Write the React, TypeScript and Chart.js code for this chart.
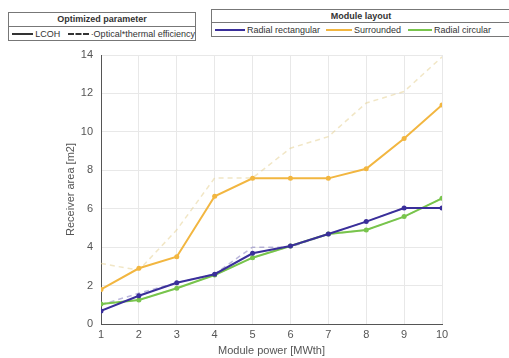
import React, { useEffect, useRef } from "react";
import { Chart, registerables } from "chart.js";
Chart.register(...registerables);

const modulePower = [1, 2, 3, 4, 5, 6, 7, 8, 9, 10];
const yTicks = [0, 2, 4, 6, 8, 10, 12, 14];

const rectLCOH = [0.68, 1.47, 2.15, 2.59, 3.68, 4.06, 4.68, 5.33, 6.04, 6.04];
const surrLCOH = [1.8, 2.9, 3.5, 6.65, 7.58, 7.58, 7.58, 8.08, 9.65, 11.4];
const circLCOH = [1.04, 1.25, 1.86, 2.55, 3.45, 4.06, 4.68, 4.89, 5.59, 6.54];

const rectOpt = [1.0, 1.6, 2.15, 2.6, 4.0, 4.0, 4.68, 5.33, 6.04, 6.04];
const surrOpt = [3.15, 2.8, 4.9, 7.6, 7.6, 9.15, 9.75, 11.5, 12.1, 13.9];
const circOpt = [1.04, 1.25, 1.86, 2.55, 3.45, 4.06, 4.68, 4.89, 5.59, 6.54];

const BLUE = "#3a2f9a";
const ORANGE = "#f2b640";
const GREEN = "#78c44c";

const FONT = "'Liberation Sans', Arial, sans-serif";

function pts(arr: number[]) {
  return modulePower.map((x, i) => ({ x, y: arr[i] }));
}

export default function App() {
  const ref = useRef<HTMLCanvasElement | null>(null);
  useEffect(() => {
    if (!ref.current) return;
    const solid = (label: string, data: number[], color: string) => ({
      label,
      data: pts(data),
      borderColor: color,
      backgroundColor: color,
      borderWidth: 2,
      pointRadius: 2.5,
      pointBorderWidth: 0,
      tension: 0,
    });
    const dashed = (label: string, data: number[], color: string) => ({
      label,
      data: pts(data),
      borderColor: color,
      backgroundColor: color,
      borderWidth: 1.5,
      borderDash: [5, 4],
      pointRadius: 0,
      tension: 0,
    });
    const chart = new Chart(ref.current, {
      type: "line",
      data: {
        datasets: [
          solid("Radial rectangular", rectLCOH, BLUE),
          solid("Surrounded", surrLCOH, ORANGE),
          solid("Radial circular", circLCOH, GREEN),
          dashed("Radial rectangular (opt)", rectOpt, "rgba(90,80,170,0.4)"),
          dashed("Surrounded (opt)", surrOpt, "rgba(230,210,150,0.55)"),
          dashed("Radial circular (opt)", circOpt, "rgba(120,196,76,0.4)"),
        ] as any,
      },
      options: {
        animation: false,
        responsive: false,
        maintainAspectRatio: false,
        layout: { padding: { left: 64, right: 67, top: 55, bottom: 0 } },
        plugins: { legend: { display: false }, tooltip: { enabled: false } },
        scales: {
          x: {
            type: "linear",
            min: 1,
            max: 10,
            afterBuildTicks: (s: any) => {
              s.ticks = modulePower.map((v) => ({ value: v }));
            },
            afterFit: (s: any) => {
              s.height = 34;
            },
            grid: { color: "#e8e8e8", drawTicks: false },
            border: { color: "#555", width: 1 },
            ticks: {
              color: "#555",
              font: { family: FONT, size: 11 },
              padding: 4,
              maxRotation: 0,
            },
            title: {
              display: true,
              text: "Module power [MWth]",
              color: "#555",
              font: { family: FONT, size: 11 },
              padding: { top: 0, bottom: 0 },
            },
          },
          y: {
            type: "linear",
            min: 0,
            max: 14,
            afterBuildTicks: (s: any) => {
              s.ticks = yTicks.map((v) => ({ value: v }));
            },
            afterFit: (s: any) => {
              s.width = 37;
            },
            grid: { color: "#e8e8e8", drawTicks: false },
            border: { color: "#555", width: 1 },
            ticks: {
              color: "#555",
              font: { family: FONT, size: 11 },
              padding: 8,
            },
            title: {
              display: true,
              text: "Receiver area [m2]",
              color: "#555",
              font: { family: FONT, size: 11 },
              padding: { top: 0, bottom: 0 },
            },
          },
        },
      } as any,
    });
    return () => chart.destroy();
  }, []);

  const box: React.CSSProperties = {
    position: "absolute",
    border: "1px solid #777",
    background: "#fff",
    fontFamily: FONT,
    fontSize: 9,
    color: "#333",
    boxSizing: "border-box",
  };
  const head: React.CSSProperties = {
    textAlign: "center",
    fontWeight: "bold",
    borderBottom: "1px solid #777",
    height: 13,
    lineHeight: "13px",
  };
  const row: React.CSSProperties = {
    display: "flex",
    alignItems: "center",
    height: 13,
    whiteSpace: "nowrap",
    paddingLeft: 3,
  };
  const line = (color: string, w: number, dash = false): React.CSSProperties => ({
    display: "inline-block",
    width: w,
    height: 0,
    borderTop: dash ? `2px dashed ${color}` : `2px solid ${color}`,
    marginRight: 2,
  });

  return (
    <div style={{ position: "fixed", left: 0, top: 0, width: 509, height: 358, background: "#fff" }}>
      <canvas ref={ref} width={509} height={358} style={{ position: "absolute", left: 0, top: 0 }} />
      <div style={{ ...box, left: 8, top: 12, width: 188, height: 29 }}>
        <div style={head}>Optimized parameter</div>
        <div style={row}>
          <span style={line("#333", 27)} />
          <span>LCOH</span>
          <span style={{ ...line("#333", 26, true), marginLeft: 8 }} />
          <span>·Optical*thermal efficiency</span>
        </div>
      </div>
      <div style={{ ...box, left: 211, top: 9, width: 300, height: 28 }}>
        <div style={{ ...head, height: 12, lineHeight: "12px" }}>Module layout</div>
        <div style={row}>
          <span style={line(BLUE, 30)} />
          <span style={{ marginRight: 6 }}>Radial rectangular</span>
          <span style={line(ORANGE, 26)} />
          <span style={{ marginRight: 7 }}>Surrounded</span>
          <span style={line(GREEN, 24)} />
          <span>Radial circular</span>
        </div>
      </div>
    </div>
  );
}
